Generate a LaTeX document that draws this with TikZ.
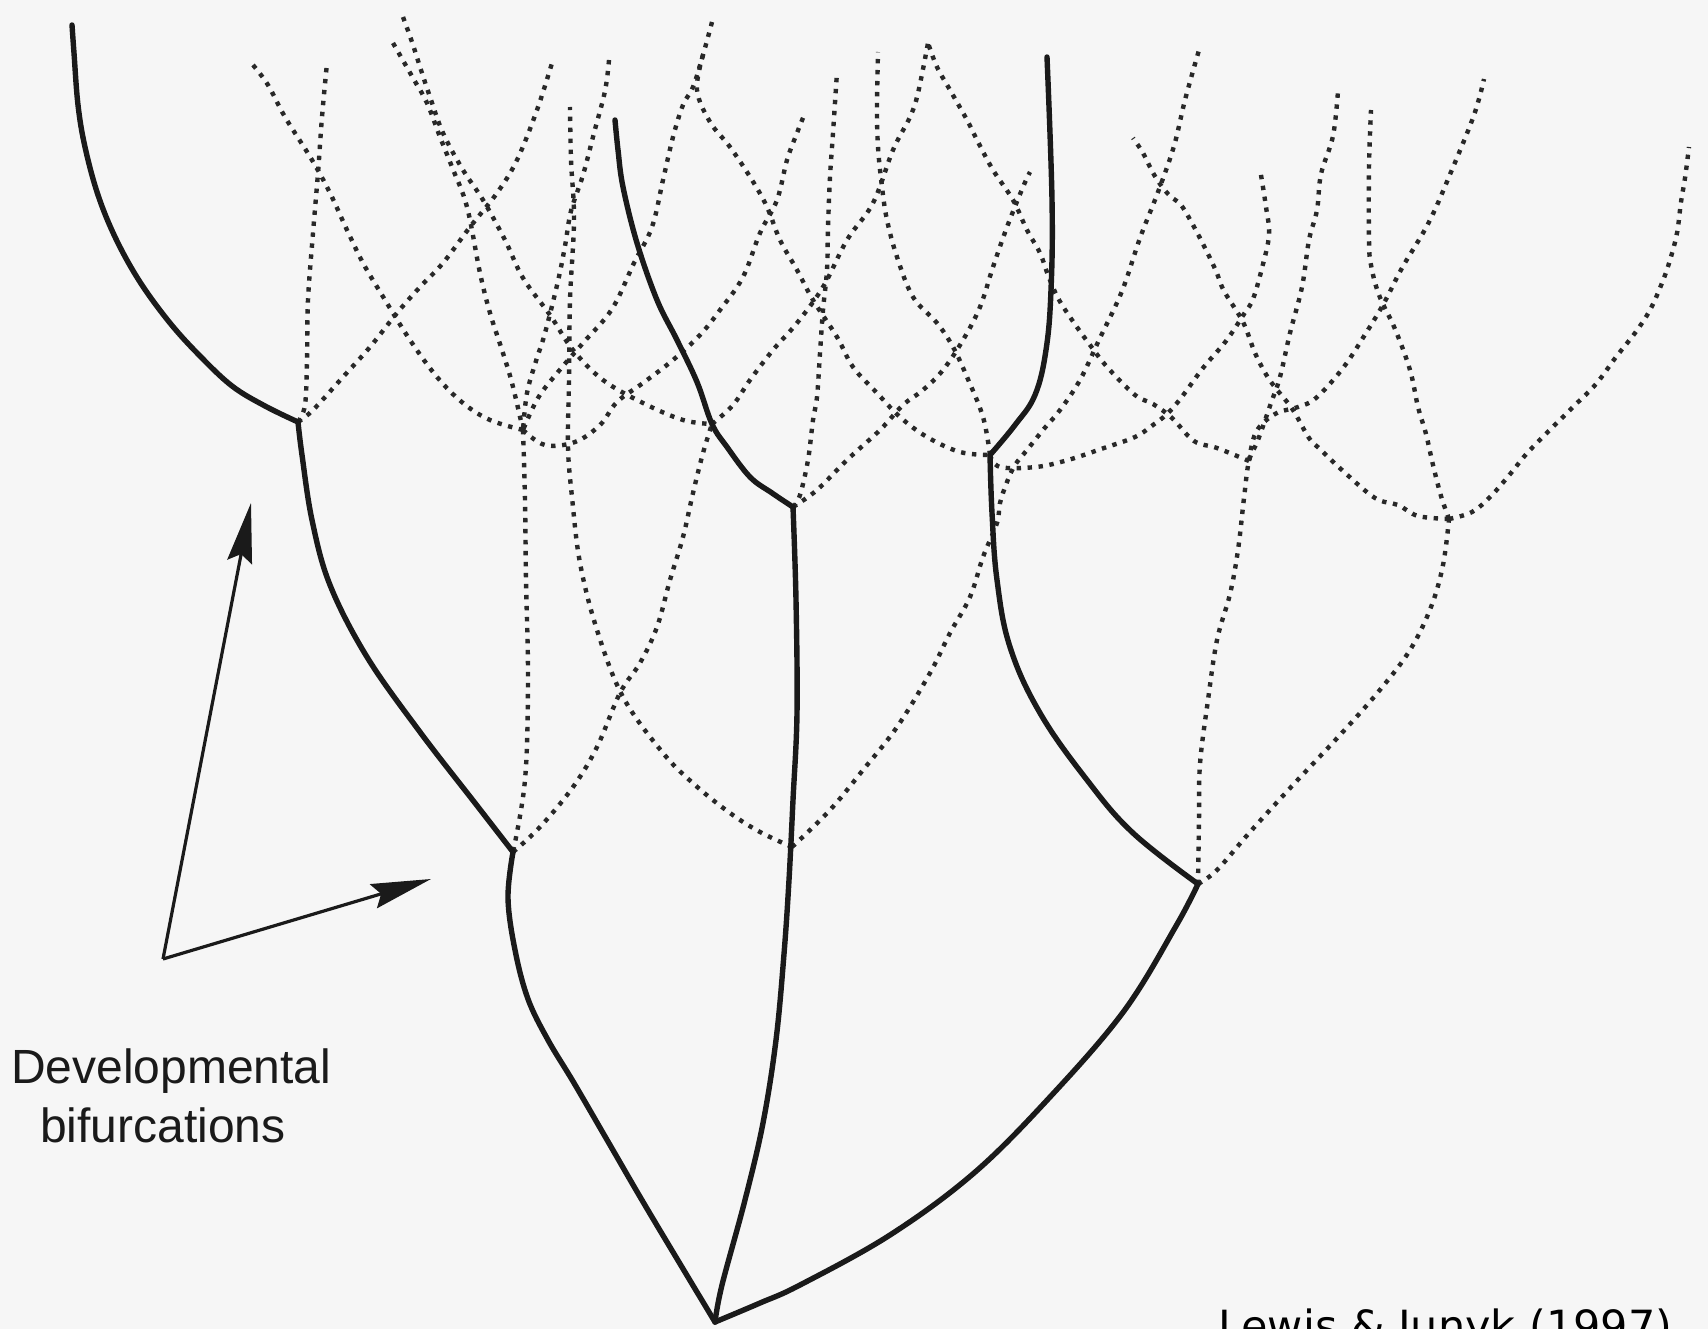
\documentclass[tikz,border=0pt]{standalone}
\usepackage{fontspec}
\usetikzlibrary{arrows.meta}
\newfontfamily\labfont{Liberation Sans}
\newfontfamily\creditfont{DejaVu Sans}
\definecolor{bg}{RGB}{246,246,246}
\definecolor{ink}{RGB}{26,26,26}
\definecolor{dotink}{RGB}{40,40,40}
\tikzset{
  solidline/.style={draw=ink, line width=5.4pt, line cap=round, line join=round},
  dotline/.style={draw=dotink, line width=4.4pt, dash pattern=on 4.4pt off 6.6pt},
  pointer/.style={draw=ink, line width=3.2pt, -{Stealth[length=60pt,width=25pt,inset=8pt]}},
  lbl/.style={font=\labfont\fontsize{48}{56}\selectfont, text=ink, inner sep=0pt},
  credit/.style={font=\creditfont\fontsize{43}{50}\selectfont, text=black, inner sep=0pt}
}
\begin{document}
\begin{tikzpicture}[x=1pt,y=-1pt]
\fill[bg] (0,0) rectangle (1708,1329);
\useasboundingbox (0,0) rectangle (1708,1329);
% key points
\coordinate (A) at (298,422);
\coordinate (B) at (513,852);
\coordinate (R) at (715,1322);
\coordinate (C) at (793,507);
\coordinate (N1) at (712,424);
\coordinate (T1) at (792,847);
\coordinate (D) at (1198,884);
\coordinate (E) at (990,455);
\coordinate (F) at (523,430);
\coordinate (G) at (1449,519);
\coordinate (N3) at (1249,461);

% ---------- dashed lattice ----------
\draw[dotline] plot[smooth,tension=0.6] coordinates {(A) (305,405) (307,360) (308,300) (313,233) (318,173) (322,117) (327,63)};
\draw[dotline] plot[smooth,tension=0.6] coordinates {(A) (313,410) (343,377) (370,347) (397,313) (420,287) (443,263) (470,227) (497,193) (517,160) (537,110) (552,63)};
\draw[dotline] plot[smooth,tension=0.6] coordinates {(253,65) (268,85) (285,117) (312,160) (330,193) (347,230) (363,263) (382,295) (410,340) (437,377) (463,403) (490,420) (F)};
\draw[dotline] plot[smooth,tension=0.6] coordinates {(393,43) (413,78) (427,103) (440,137) (452,167) (467,207) (480,273) (490,313) (502,350) (512,383) (F)};
\draw[dotline] plot[smooth,tension=0.6] coordinates {(403,17) (412,42) (421,70) (430,97) (443,133) (463,170) (483,200) (505,240) (523,278) (550,315) (573,350) (603,380) (643,403) (683,420) (N1)};
\draw[dotline] plot[smooth,tension=0.6] coordinates {(F) (525,500) (526,580) (528,680) (525,780) (B)};
\draw[dotline] plot[smooth,tension=0.6] coordinates {(609,60) (605,91) (594,133) (583,175) (571,211) (565,246) (558,281) (545,333) (536,361) (527,393) (F)};
\draw[dotline] plot[smooth,tension=0.6] coordinates {(T1) (760,832) (730,813) (695,785) (663,753) (623,697) (597,630) (580,563) (572,497) (568,447) (569,380) (570,300) (574,220) (571,160) (570,107)};
\draw[dotline] plot[smooth,tension=0.6] coordinates {(B) (540,827) (573,787) (597,747) (620,693) (640,663) (657,627) (670,580) (683,537) (693,493) (703,453) (N1)};
\draw[dotline] plot[smooth,tension=0.6] coordinates {(N1) (733,405) (750,380) (773,350) (797,323) (823,287) (847,240) (873,203) (893,150) (910,117) (918,93) (928,43)};
\draw[dotline] plot[smooth,tension=0.6] coordinates {(712,22) (703,55) (693,87) (683,105) (673,137) (663,180) (652,227) (634,263) (612,309) (583,343) (558,372) (538,398) (F)};
\draw[dotline] plot[smooth,tension=0.6] coordinates {(703,55) (697,90) (710,122) (730,147) (752,180) (767,207) (780,240) (797,270) (813,300) (837,337) (853,367) (877,393) (900,417) (927,437) (960,452) (E)};
\draw[dotline] plot[smooth,tension=0.6] coordinates {(C) (800,495) (808,460) (813,420) (817,397) (820,353) (823,310) (827,270) (828,227) (830,177) (833,133) (837,72)};
\draw[dotline] plot[smooth,tension=0.6] coordinates {(F) (545,445) (575,442) (600,425) (617,402) (643,383) (673,360) (700,335) (720,310) (743,277) (760,233) (777,200) (787,160) (797,133) (805,113)};
\draw[dotline] plot[smooth,tension=0.6] coordinates {(E) (983,417) (967,377) (953,347) (937,323) (913,297) (897,257) (887,220) (882,187) (878,147) (877,107) (878,52)};
\draw[dotline] plot[smooth,tension=0.6] coordinates {(N3) (1217,448) (1194,441) (1172,418) (1153,404) (1135,395) (1108,368) (1090,345) (1072,320) (1058,298) (1048,275) (1040,253) (1027,230) (1013,200) (993,170) (977,140) (967,120) (950,90) (937,67) (928,43)};
\draw[dotline] plot[smooth,tension=0.6] coordinates {(C) (817,490) (847,460) (880,430) (903,405) (923,390) (943,370) (963,340) (980,307) (993,267) (1007,227) (1023,187) (1030,172)};
\draw[dotline] plot[smooth,tension=0.6] coordinates {(T1) (830,810) (863,770) (897,727) (930,673) (950,633) (970,597) (983,557) (997,523) (1000,503) (1007,482) (1015,465) (1027,450) (1043,430) (1060,410) (1080,380) (1099,340) (1122,291) (1140,238) (1158,192) (1174,146) (1185,100) (1199,50)};
\draw[dotline] plot[smooth,tension=0.6] coordinates {(E) (1000,467) (1036,467) (1068,460) (1104,448) (1135,437) (1153,425) (1167,414) (1181,398) (1203,368) (1226,341) (1244,314) (1253,299) (1262,268) (1269,235) (1266,207) (1260,169)};
\draw[dotline] plot[smooth,tension=0.6] coordinates {(D) (1199,820) (1200,764) (1208,700) (1217,640) (1230,594) (1238,550) (1244,498) (N3) (1258,440) (1271,403) (1280,377) (1290,333) (1302,287) (1309,240) (1317,210) (1321,174) (1333,136) (1338,91)};
\draw[dotline] plot[smooth,tension=0.6] coordinates {(N3) (1256,432) (1275,414) (1298,407) (1316,398) (1343,368) (1366,333) (1384,303) (1402,268) (1429,222) (1451,172) (1474,115) (1484,79)};
\draw[dotline] plot[smooth,tension=0.6] coordinates {(D) (1217,870) (1250,832) (1292,786) (1340,735) (1379,691) (1410,650) (1431,607) (1443,565) (G)};
\draw[dotline] plot[smooth,tension=0.6] coordinates {(G) (1418,516) (1398,505) (1375,498) (1343,471) (1321,450) (1309,438) (1293,410) (1278,391) (1267,376) (1255,353) (1243,322) (1224,291) (1216,271) (1205,248) (1193,225) (1181,205) (1170,196) (1160,184) (1152,171) (1143,153) (1133,138)};
\draw[dotline] plot[smooth,tension=0.6] coordinates {(G) (1441,496) (1433,465) (1426,434) (1418,407) (1410,370) (1395,329) (1379,295) (1371,265) (1369,240) (1369,167) (1371,110)};
\draw[dotline] plot[smooth,tension=0.6] coordinates {(G) (1472,512) (1491,496) (1511,473) (1530,450) (1573,407) (1596,384) (1616,357) (1635,333) (1650,310) (1662,283) (1670,260) (1677,233) (1681,202) (1685,178) (1689,147)};

% ---------- solid tree ----------
\draw[solidline] plot[smooth,tension=0.6] coordinates {(72,25) (74,53) (78,105) (85,147) (98,195) (116,239) (140,282) (170,323) (200,356) (232,386) (265,406) (A)};
\draw[solidline] plot[smooth,tension=0.6] coordinates {(A) (302,455) (312,520) (330,585) (367,657) (420,732) (475,803) (B)};
\draw[solidline] plot[smooth,tension=0.6] coordinates {(B) (508,898) (515,950) (528,999) (548,1040) (574,1083) (610,1145) (649,1212) (R)};
\draw[solidline] plot[smooth,tension=0.6] coordinates {(R) (722,1285) (745,1200) (763,1123) (776,1040) (784,954) (789,880) (793,800) (797,713) (796,600) (C)};
\draw[solidline] plot[smooth,tension=0.6] coordinates {(C) (772,493) (750,477) (727,447) (N1) (697,382) (677,340) (657,300) (637,243) (623,187) (618,150) (615,120)};
\draw[solidline] plot[smooth,tension=0.6] coordinates {(R) (760,1303) (800,1285) (890,1235) (974,1173) (1050,1097) (1124,1011) (1176,926) (D)};
\draw[solidline] plot[smooth,tension=0.65] coordinates {(D) (1133,833) (1087,780) (1040,713) (1010,647) (997,580) (992,513) (E)};
\draw[solidline] plot[smooth,tension=0.65] coordinates {(E) (1015,425) (1035,395) (1046,350) (1051,290) (1052,200) (1047,57)};

% ---------- pointers and labels ----------
\coordinate (V) at (163,959);
\coordinate (tipA) at (251,503);
\coordinate (tipB) at (431,879);
\draw[pointer] (V) -- (tipA);
\draw[pointer] (V) -- (tipB);
\node[lbl, anchor=base west] (dev) at (11,1083) {Developmental};
\node[lbl, anchor=base west] (bif) at (40,1142) {bifurcations};
\node[credit, anchor=base west] (src) at (1218,1341) {Lewis \& Junyk (1997)};
\end{tikzpicture}
\end{document}
